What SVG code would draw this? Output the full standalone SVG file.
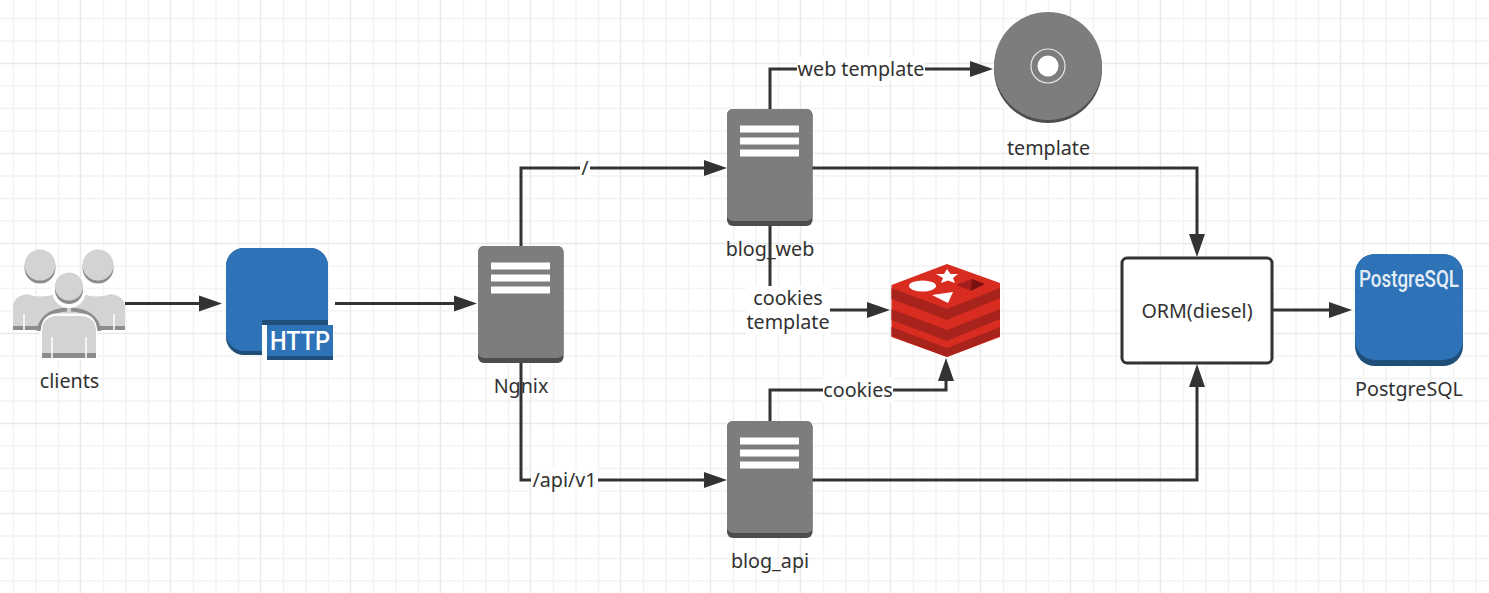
<svg xmlns="http://www.w3.org/2000/svg" width="1489" height="593" viewBox="0 0 1489 593">
<style>
text{font-family:"Noto Sans","Open Sans","Liberation Sans",sans-serif;font-size:19.7px;fill:#323232;text-anchor:middle}
.g{stroke:#f3f3f3;stroke-width:1.5;fill:none}
.G{stroke:#e9e9e9;stroke-width:1.5;fill:none}
.c{stroke:#333;stroke-width:3;fill:none}
.h{fill:#333}
.lb{fill:#fff}
.bar{fill:#fff}
.sb{fill:#4d4d4d}
.st{fill:#7d7d7d}
.p{fill:#d2d3d3}
.pd{fill:#8c8c8c}
.rd{fill:#a9231d}
.icon{font-family:Roboto,"Liberation Sans",sans-serif;font-weight:500}
</style>
<defs>
<path id="a" d="M0 0L-23 -8V8Z"/>
<g id="srv">
<rect class="sb" x="0" y="0" width="85.500" height="117" rx="6"/>
<path class="st" d="M6 0H79.500a6 6 0 0 1 6 6V107q0 4-6 5H6q-6-1-6-5V6a6 6 0 0 1 6-6Z"/>
<rect class="bar" x="13" y="16.500" width="59" height="7"/>
<rect class="bar" x="13" y="28.500" width="59" height="7"/>
<rect class="bar" x="13" y="40.500" width="59" height="7"/>
</g>
<g id="person">
<path class="p" d="M-28 24V3Q-28-9-14-11Q0-6 14-11Q28-9 28 3V24Z"/>
<path class="pd" d="M-28 21H28V25H-28Z"/>
<path d="M-17 9V25M17 9V25" stroke="#fff" stroke-width="1.500"/>
</g>
</defs>
<g id="grid">
<path class="g" d="M13.500 0V593M36 0V593M58.500 0V593M103.500 0V593M126 0V593M148.500 0V593M193.500 0V593M216 0V593M238.500 0V593M283.500 0V593M306 0V593M328.500 0V593M373.500 0V593M396 0V593M418.500 0V593M463.500 0V593M486 0V593M508.500 0V593M553.500 0V593M576 0V593M598.500 0V593M643.500 0V593M666 0V593M688.500 0V593M733.500 0V593M756 0V593M778.500 0V593M823.500 0V593M846 0V593M868.500 0V593M913.500 0V593M936 0V593M958.500 0V593M1003.500 0V593M1026 0V593M1048.500 0V593M1093.500 0V593M1116 0V593M1138.500 0V593M1183.500 0V593M1206 0V593M1228.500 0V593M1273.500 0V593M1296 0V593M1318.500 0V593M1363.500 0V593M1386 0V593M1408.500 0V593M1453.500 0V593M1476 0V593"/>
<path class="g" d="M0 18.500H1489M0 41H1489M0 86H1489M0 108.500H1489M0 131H1489M0 176H1489M0 198.500H1489M0 221H1489M0 266H1489M0 288.500H1489M0 311H1489M0 356H1489M0 378.500H1489M0 401H1489M0 446H1489M0 468.500H1489M0 491H1489M0 536H1489M0 558.500H1489M0 581H1489"/>
<path class="G" d="M80.500 0V593M170.500 0V593M260.500 0V593M350.500 0V593M440.500 0V593M530.500 0V593M620.500 0V593M710.500 0V593M800.500 0V593M890.500 0V593M980.500 0V593M1070.500 0V593M1160.500 0V593M1250.500 0V593M1340.500 0V593M1430.500 0V593"/>
<path class="G" d="M0 63.500H1489M0 153.500H1489M0 243.500H1489M0 333.500H1489M0 423.500H1489M0 513.500H1489"/>
</g>
<g id="connectors">
<path class="c" d="M125 303.500H205"/><use href="#a" class="h" x="222" y="303.500"/>
<path class="c" d="M335 303.500H460"/><use href="#a" class="h" x="477" y="303.500"/>
<path class="c" d="M521 246V168H710"/><use href="#a" class="h" x="727" y="168"/>
<path class="c" d="M521 363V480H710"/><use href="#a" class="h" x="727" y="480"/>
<path class="c" d="M770 109V69H975"/><use href="#a" class="h" x="993" y="69"/>
<path class="c" d="M812 168H1197V240"/><use href="#a" class="h" transform="translate(1197 257) rotate(90)"/>
<path class="c" d="M770 226V310H872"/><use href="#a" class="h" x="890" y="310"/>
<path class="c" d="M770 421V390H946V375"/><use href="#a" class="h" transform="translate(946 358) rotate(-90)"/>
<path class="c" d="M812 480H1197V380"/><use href="#a" class="h" transform="translate(1197 364) rotate(-90)"/>
<path class="c" d="M1273 310H1335"/><use href="#a" class="h" x="1352" y="310"/>
<rect class="lb" x="580" y="156" width="10" height="24"/>
<text x="585" y="175">/</text>
<rect class="lb" x="531" y="468" width="67" height="24"/>
<text x="564.500" y="487">/api/v1</text>
<rect class="lb" x="797" y="57" width="128" height="24"/>
<text x="861" y="76">web template</text>
<rect class="lb" x="746" y="286" width="84" height="49"/>
<text><tspan x="788" y="305">cookies</tspan><tspan x="788" y="329">template</tspan></text>
<rect class="lb" x="823" y="378" width="70" height="24"/>
<text x="858" y="397">cookies</text>
</g>
<g id="clients">
<circle class="pd" cx="40" cy="268" r="15.500"/><circle class="p" cx="40" cy="265" r="15.500"/>
<circle class="pd" cx="98" cy="268" r="15.500"/><circle class="p" cx="98" cy="265" r="15.500"/>
<use href="#person" x="41" y="305"/>
<use href="#person" x="97" y="305"/>
<path d="M38.500 331Q42 311 67 309.500M71 309.500Q96 311 99.500 331" fill="none" stroke="#8c8c8c" stroke-width="4"/>
<path d="M42 334Q42 316 56 315H82Q96 316 96 334V358H42Z" fill="#fff" stroke="#fff" stroke-width="3"/>
<path class="p" d="M42 353V332Q42 317 56 316H82Q96 317 96 332V353Z"/>
<path class="pd" d="M42 353H96V358H42Z"/>
<path d="M52 337V358M86 337V358" stroke="#fff" stroke-width="1.500"/>
<circle cx="69" cy="291" r="17" fill="#fff"/>
<circle class="pd" cx="69" cy="290" r="14"/><circle class="p" cx="69" cy="286.500" r="14"/>
<text x="69.500" y="388">clients</text>
</g>
<g id="http">
<rect x="226" y="248" width="102" height="107" rx="18" fill="#1f4e79"/>
<path d="M244 248H310a18 18 0 0 1 18 18V325H262V351H244a18 18 0 0 1-18-18V266a18 18 0 0 1 18-18Z" fill="#2e73b8"/>
<rect x="262" y="320" width="72" height="40" fill="#fff"/>
<rect x="262" y="320" width="66" height="5" fill="#1f4e79"/>
<rect x="267" y="325" width="66" height="35" fill="#1f4e79"/>
<rect x="267" y="325" width="66" height="31" fill="#2e73b8"/>
<text class="icon" x="300" y="350" style="font-size:25px;fill:#fff" textLength="60" lengthAdjust="spacingAndGlyphs">HTTP</text>
</g>
<g id="nginx">
<use href="#srv" x="478" y="246"/>
<text x="521" y="393">Ngnix</text>
</g>
<g id="blog_web">
<use href="#srv" x="727" y="109"/>
<text x="770" y="256">blog_web</text>
</g>
<g id="blog_api">
<use href="#srv" x="727" y="421"/>
<text x="770" y="568">blog_api</text>
</g>
<g id="template">
<circle cx="1048" cy="69" r="54" fill="#4d4d4d"/>
<circle cx="1048" cy="66" r="54" fill="#7d7d7d"/>
<circle cx="1048" cy="66" r="17" fill="none" stroke="#e6e6e6" stroke-width="1.200"/>
<circle cx="1048" cy="66" r="10.500" fill="#fff"/>
<text x="1048.500" y="155">template</text>
</g>
<g id="redis">
<path d="M891.500 285L947 264L1000 283V337L947 357L891.500 337Z" fill="#d82c20"/>
<path class="rd" d="M891.500 288L947 309L1000 288V298L947 320L891.500 299Z"/>
<path class="rd" d="M891.500 309L947 330L1000 309V319L947 341L891.500 320Z"/>
<path class="rd" d="M891.500 327L947 348L1000 327V336L947 357L891.500 336Z"/>
<ellipse cx="922.500" cy="286" rx="13.500" ry="5.500" fill="#fff"/>
<path d="M947 269L950.500 274L958 274L953 278L955 283L948 280.500L941 283L943 278L936 274L944 274Z" fill="#fff"/>
<path d="M932 295L953 292L948 303Z" fill="#fff"/>
<path d="M956 285L972 279V291Z" fill="#a41e1e"/>
<path d="M972 279L985 284L971 291Z" fill="#7a0f0f"/>
</g>
<g id="orm">
<rect x="1122" y="258" width="150" height="105" rx="5" fill="#fff" stroke="#333" stroke-width="3"/>
<text x="1197" y="318">ORM(diesel)</text>
</g>
<g id="postgres">
<rect x="1355" y="254" width="108" height="112" rx="20" fill="#1f4e79"/>
<path d="M1375 254H1443a20 20 0 0 1 20 20V338q0 20-20 22H1375q-20-2-20-22V274a20 20 0 0 1 20-20Z" fill="#2e73b8"/>
<text class="icon" x="1409" y="287" style="font-size:23px;fill:#e4edf6" textLength="100" lengthAdjust="spacingAndGlyphs">PostgreSQL</text>
<text x="1409" y="396">PostgreSQL</text>
</g>
</svg>
